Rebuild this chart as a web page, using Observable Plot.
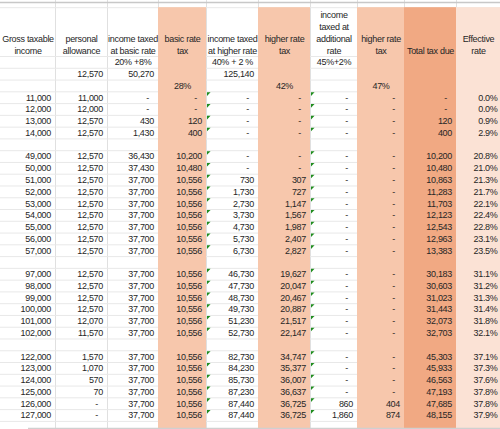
<!DOCTYPE html>
<html><head><meta charset="utf-8">
<script src="https://cdn.jsdelivr.net/npm/d3@7"></script>
<script src="https://cdn.jsdelivr.net/npm/@observablehq/plot@0.6"></script>
<style>html,body{margin:0;padding:0;background:#fff;} #chart svg{display:block} #chart svg text{letter-spacing:-0.3px}</style>
</head><body><div id="chart"></div>
<script>
// ---------- data ----------
const headers = ["Gross taxable\nincome", "personal\nallowance", "income taxed\nat basic rate", "basic rate\ntax", "income taxed\nat higher rate", "higher rate\ntax", "income\ntaxed at\nadditional\nrate", "higher rate\ntax", "Total tax due", "Effective\nrate"];
const rateLabels = ["", "", "20% +8%", "", "40% + 2 %", "", "45%+2%", "", "", ""];
const thresholds = [null, 12570, 50270, null, 125140, null, null, null, null, null];
const marginalRates = ["", "", "", "28%", "", "42%", "", "47%", "", ""];
const sectionSizes = [4, 9, 6, 6];

const grossIncome = [11000, 12000, 13000, 14000,
  49000, 50000, 51000, 52000, 53000, 54000, 55000, 56000, 57000,
  97000, 98000, 99000, 100000, 101000, 102000,
  122000, 123000, 124000, 125000, 126000, 127000];
const personalAllowance = [11000, 12000, 12570, 12570,
  12570, 12570, 12570, 12570, 12570, 12570, 12570, 12570, 12570,
  12570, 12570, 12570, 12570, 12070, 11570,
  1570, 1070, 570, 70, 0, 0];
const incomeBasic = [0, 0, 430, 1430,
  36430, 37430, 37700, 37700, 37700, 37700, 37700, 37700, 37700,
  37700, 37700, 37700, 37700, 37700, 37700,
  37700, 37700, 37700, 37700, 37700, 37700];
const basicTax = [0, 0, 120, 400,
  10200, 10480, 10556, 10556, 10556, 10556, 10556, 10556, 10556,
  10556, 10556, 10556, 10556, 10556, 10556,
  10556, 10556, 10556, 10556, 10556, 10556];
const incomeHigher = [0, 0, 0, 0,
  0, 0, 730, 1730, 2730, 3730, 4730, 5730, 6730,
  46730, 47730, 48730, 49730, 51230, 52730,
  82730, 84230, 85730, 87230, 87440, 87440];
const higherTax = [0, 0, 0, 0,
  0, 0, 307, 727, 1147, 1567, 1987, 2407, 2827,
  19627, 20047, 20467, 20887, 21517, 22147,
  34747, 35377, 36007, 36637, 36725, 36725];
const incomeAdditional = [0, 0, 0, 0,
  0, 0, 0, 0, 0, 0, 0, 0, 0,
  0, 0, 0, 0, 0, 0,
  0, 0, 0, 0, 860, 1860];
const additionalTax = [0, 0, 0, 0,
  0, 0, 0, 0, 0, 0, 0, 0, 0,
  0, 0, 0, 0, 0, 0,
  0, 0, 0, 0, 404, 874];
const totalTax = [0, 0, 120, 400,
  10200, 10480, 10863, 11283, 11703, 12123, 12543, 12963, 13383,
  30183, 30603, 31023, 31443, 32073, 32703,
  45303, 45933, 46563, 47193, 47685, 48155];
const effectiveRate = [0.0, 0.0, 0.9, 2.9,
  20.8, 21.0, 21.3, 21.7, 22.1, 22.4, 22.8, 23.1, 23.5,
  31.1, 31.2, 31.3, 31.4, 31.8, 32.1,
  37.1, 37.3, 37.6, 37.8, 37.8, 37.9];

// ---------- layout (sheet geometry) ----------
const colWidths = [55, 52, 51, 48, 52, 52, 47, 47, 52, 44];
const colFills = [null, null, null, "#F7C7AC", null, "#F7C7AC", null, "#F7C7AC", "#F1A983", "#FBE2D5"];
const flaggedCols = [4, 6];
const W = 500, H = 429;
const yDomain = [-1.26, 35.19];   // in sheet-row units (header lines 0..3)
const headerTop = -0.65;
const topLine = -1.08;
const firstDataRow = 7;

const edges = [0];
colWidths.forEach(w => edges.push(edges[edges.length - 1] + w));
const ncol = colWidths.length;

const columns = [grossIncome, personalAllowance, incomeBasic, basicTax, incomeHigher, higherTax, incomeAdditional, additionalTax, totalTax, effectiveRate];

// row index for each data item (blank row between sections)
const dataRows = [];
{
  let r = firstDataRow, i = 0;
  sectionSizes.forEach((n, s) => {
    for (let k = 0; k < n; k++) dataRows.push({i: i++, row: r++});
    r++; // blank spacer row
  });
}
const lastRow = dataRows[dataRows.length - 1].row;

const fmt = d3.format(",");
const cells = [];
dataRows.forEach(({i, row}) => {
  columns.forEach((col, c) => {
    const v = col[i];
    if (c === ncol - 1) cells.push({c, row, text: v.toFixed(1) + "%", kind: "pct"});
    else if (v === 0) cells.push({c, row, text: "-", kind: "dash"});
    else cells.push({c, row, text: fmt(v), kind: "num"});
  });
});

const headerLines = [];
headers.forEach((h, c) => {
  const lines = h.split("\n");
  lines.forEach((t, j) => headerLines.push({c, row: 4 - lines.length + j, text: t}));
});
const centered = [];
rateLabels.forEach((t, c) => { if (t) centered.push({c, row: 4, text: t}); });
marginalRates.forEach((t, c) => { if (t) centered.push({c, row: 6, text: t}); });
const thresholdCells = [];
thresholds.forEach((v, c) => { if (v != null) thresholdCells.push({c, row: 5, text: fmt(v), kind: "num"}); });

const fillCols = colFills.map((f, c) => ({c, f})).filter(d => d.f);
const hLines = d3.range(3, lastRow + 1).map(k => k + 0.5).concat([headerTop]);
const vLines = edges.slice(1, ncol);
const flags = [];
dataRows.forEach(({row}) => flaggedCols.forEach(c => flags.push({c, row})));

const corner = {
  draw(ctx, size) {
    const s = Math.sqrt(size);
    ctx.moveTo(0, 0); ctx.lineTo(s, 0); ctx.lineTo(0, s); ctx.closePath();
  }
};

const font = "Liberation Sans, Arial, sans-serif";
const ink = "#262626";
const rightX = d => edges[d.c + 1];
const centerX = d => (edges[d.c] + edges[d.c + 1]) / 2;
const dxFor = k => k === "num" ? -4.5 : k === "dash" ? -9.5 : -3;

const textCommon = {fontSize: 9, fontFamily: font, fill: ink};
const rightTexts = cells.concat(thresholdCells);

const chart = Plot.plot({
  width: W, height: H,
  margin: 0,
  x: {type: "linear", domain: [0, edges[ncol]], range: [0, W], axis: null},
  y: {type: "linear", domain: yDomain, range: [0, H], axis: null},
  marks: [
    Plot.ruleX(vLines, {x: d => d, y1: yDomain[0], y2: yDomain[1], stroke: "#E0E0E0", strokeWidth: 1}),
    Plot.ruleY(hLines, {y: d => d, x1: 0, x2: edges[ncol], stroke: "#E8E8E8", strokeWidth: 1}),
    Plot.ruleY([topLine], {y: d => d, x1: 0, x2: edges[ncol], stroke: "#C8C8C8", strokeWidth: 1.5}),
    Plot.rect(fillCols, {x1: d => edges[d.c], x2: d => edges[d.c + 1], y1: headerTop, y2: yDomain[1], fill: d => d.f}),
    Plot.ruleY([yDomain[1] - 0.08], {y: d => d, x1: 28, x2: edges[ncol], stroke: "#D0D0D0", strokeWidth: 1.5}),
    Plot.dot(flags, {x: d => edges[d.c], y: d => d.row - 0.5, r: 2, symbol: corner, fill: "#1E8C1E", stroke: "none", dx: 0.5, dy: 0.5}),
    Plot.text(headerLines, {x: centerX, y: "row", text: "text", textAnchor: "middle", ...textCommon}),
    Plot.text(centered, {x: centerX, y: "row", text: "text", textAnchor: "middle", ...textCommon}),
    Plot.text(rightTexts.filter(d => d.kind === "num"), {x: rightX, y: "row", text: "text", textAnchor: "end", dx: dxFor("num"), ...textCommon}),
    Plot.text(rightTexts.filter(d => d.kind === "dash"), {x: rightX, y: "row", text: "text", textAnchor: "end", dx: dxFor("dash"), ...textCommon}),
    Plot.text(rightTexts.filter(d => d.kind === "pct"), {x: rightX, y: "row", text: "text", textAnchor: "end", dx: dxFor("pct"), ...textCommon})
  ]
});
document.getElementById("chart").appendChild(chart);
</script>
</body></html>
